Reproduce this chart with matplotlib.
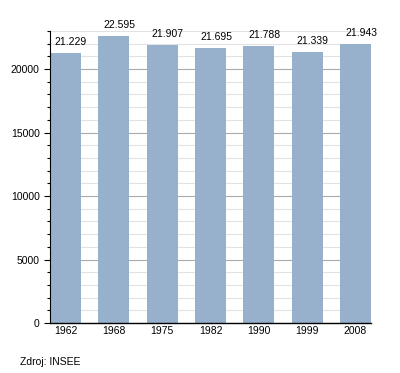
"""
Population bar chart (INSEE)
"""
import matplotlib
matplotlib.use('Agg')
from matplotlib import pyplot as plt
from matplotlib.ticker import MultipleLocator

years = ['1962', '1968', '1975', '1982', '1990', '1999', '2008']
population = [21229, 22595, 21907, 21695, 21788, 21339, 21943]
labels = ['21.229', '22.595', '21.907', '21.695', '21.788', '21.339', '21.943']

plt.rcParams['font.family'] = ['Liberation Sans', 'DejaVu Sans']

fig = plt.figure(figsize=(4.0, 3.73), dpi=100)
ax = fig.add_axes([0.125, 0.134, 0.8025, 0.783])

x = range(len(years))
ax.bar(x, population, width=0.64, color='#97b1cc', edgecolor='none', zorder=2)
for xi, val, lab in zip(x, population, labels):
    ax.annotate(lab, (xi, val), xytext=(4, 4.3), textcoords='offset points',
                ha='center', va='bottom', fontsize=7.5)

ax.set_xlim(-0.32, len(years) - 1 + 0.32)
ax.set_ylim(0, 23000)
ax.set_xticks(list(x))
ax.set_xticklabels(years, fontsize=7.5)
ax.yaxis.set_major_locator(MultipleLocator(5000))
ax.yaxis.set_minor_locator(MultipleLocator(1000))
ax.tick_params(axis='y', which='major', labelsize=7.5, length=4, width=0.8)
ax.tick_params(axis='y', which='minor', length=2, width=0.8)
ax.tick_params(axis='x', length=0, pad=2.5)

ax.grid(axis='y', which='minor', color='#e2e2e2', linewidth=0.8, zorder=0)
ax.grid(axis='y', which='major', color='#aaaaaa', linewidth=0.8, zorder=1)
ax.set_axisbelow(True)

for side in ('top', 'right'):
    ax.spines[side].set_visible(False)
ax.spines['left'].set_linewidth(0.8)
ax.spines['bottom'].set_linewidth(1.0)

fig.text(0.05, 0.0295, 'Zdroj: INSEE', fontsize=7.5, va='center')

fig.savefig('out.png', dpi=100)
